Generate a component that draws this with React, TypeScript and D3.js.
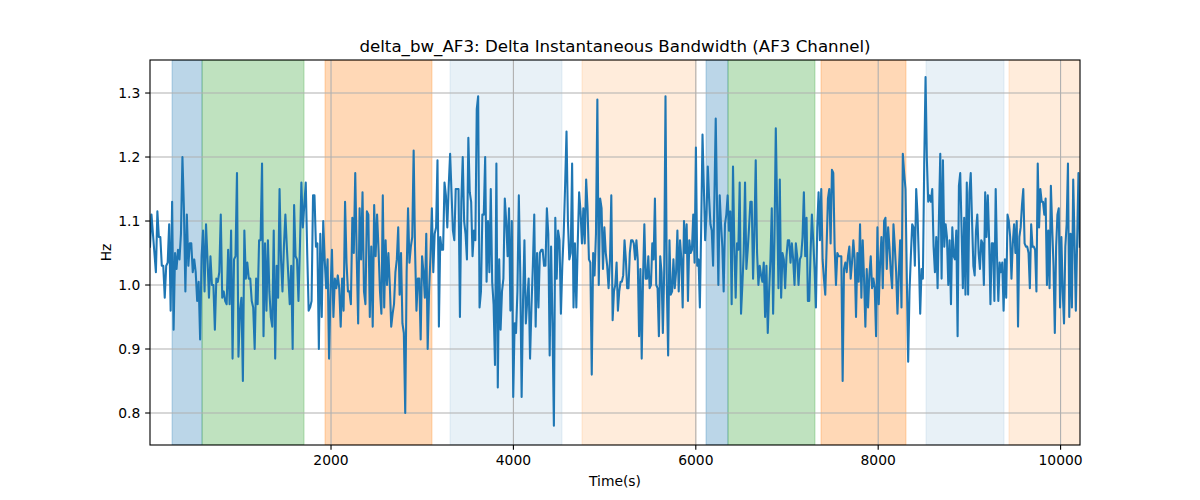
import * as d3 from "d3";

// Hz readings, one small array per stretch of the time axis
const hzSeg1 = [1.06, 1.11, 1.08, 1.05, 1.02, 1.115, 1.075, 1.075, 1.03, 1.03, 0.98, 1.03, 1.035, 1.095, 0.96, 1.13, 0.93, 1.05, 1.025, 1.055, 1.04, 1.08, 1.2, 1.12, 0.99, 1.11, 1.03, 1.065, 1.065, 1.02, 1.04, 1.02, 0.975, 1.005, 0.915, 1.045, 1.085, 0.99, 1.095, 1.04, 0.98, 1.045, 1.0, 1.0, 0.93, 1.01, 1.005, 1.02, 1.11, 0.98, 0.99, 0.975, 0.97, 1.055, 0.97, 1.085, 0.885, 1.04, 1.045, 1.175, 0.888, 0.96, 0.98, 0.85, 1.085, 1.01, 1.035, 1.01, 1.01, 0.975, 0.965, 0.9, 1.01, 0.97, 1.07, 1.07, 1.19, 0.92];
const hzSeg2 = [1.065, 0.96, 1.07, 0.99, 0.95, 0.935, 1.085, 0.885, 1.03, 0.98, 1.15, 1.04, 0.99, 1.06, 1.11, 1.06, 1.015, 0.97, 1.03, 0.9, 1.125, 1.045, 1.04, 0.975, 1.06, 1.16, 1.09, 1.125, 1.16, 1.05, 0.96, 0.965, 0.975, 1.14, 1.14, 1.06, 1.065, 0.9, 1.08, 0.95, 1.1, 1.04, 0.995, 1.04, 0.885, 0.99, 1.055, 0.95, 1.01, 0.995, 1.015, 0.995, 0.935, 1.01, 0.96, 1.13, 1.035, 0.99, 0.99, 0.97, 1.105, 1.05, 1.175, 1.045, 0.94, 1.12, 1.04, 1.145, 0.99, 0.97, 1.115, 1.11, 0.95, 1.06, 0.935, 1.125, 1.045, 1.11, 1.055];
const hzSeg3 = [0.99, 0.955, 1.14, 0.965, 1.07, 1.0, 1.05, 1.0, 0.935, 0.955, 0.97, 1.02, 1.04, 1.09, 0.985, 1.05, 0.94, 0.925, 0.8, 1.02, 1.12, 1.035, 1.06, 1.075, 1.21, 1.055, 0.96, 1.01, 1.01, 0.915, 1.045, 1.02, 0.98, 1.08, 0.9, 0.99, 1.045, 1.12, 1.02, 1.08, 1.09, 1.195, 0.935, 1.075, 1.055, 1.055, 1.16, 1.14, 1.09, 1.155, 1.205, 1.145, 1.085, 1.07, 1.15, 1.15, 1.15, 0.95, 1.13, 1.2, 1.1, 1.08, 1.04, 1.23, 1.145, 1.13, 1.045, 1.085, 1.07, 1.275, 1.295, 0.965, 0.99, 1.11, 1.11, 1.2, 1.005, 1.1, 1.02, 1.15, 1.005, 0.97];
const hzSeg4 = [0.875, 1.19, 0.84, 1.04, 0.93, 0.99, 1.01, 1.135, 1.1, 1.045, 1.12, 0.96, 1.1, 0.825, 0.94, 0.925, 0.99, 1.14, 1.02, 0.825, 0.975, 1.07, 0.94, 0.975, 1.01, 0.885, 0.965, 1.03, 1.11, 0.935, 1.05, 0.965, 1.05, 1.055, 1.055, 1.03, 1.03, 1.12, 1.08, 0.89, 1.06, 0.94, 0.78, 1.105, 1.01, 1.085, 1.07, 0.955, 1.03, 1.08, 1.155, 1.24, 1.1, 1.04, 1.05, 1.19, 0.965, 1.065, 0.965, 1.065, 1.145, 1.115, 1.065, 1.12, 1.065, 1.165, 1.12, 1.04, 1.035, 0.86, 1.05, 1.015, 1.08, 1.29, 1.0, 1.135, 1.12, 1.025, 1.09, 1.05, 1.03, 0.995];
const hzSeg5 = [1.04, 1.14, 0.945, 0.99, 1.0, 1.035, 0.96, 0.99, 1.005, 1.005, 1.015, 1.07, 1.04, 0.995, 0.995, 1.05, 1.07, 1.07, 1.065, 1.04, 1.07, 1.04, 0.92, 1.025, 0.885, 1.01, 1.095, 1.01, 1.01, 1.045, 0.995, 1.0, 1.065, 1.04, 1.135, 1.0, 0.995, 0.92, 1.045, 1.02, 0.925, 1.02, 1.295, 1.0, 0.89, 1.07, 0.985, 0.99, 1.04, 0.995, 1.02, 1.085, 0.99, 1.07, 1.04, 0.965, 1.1, 1.05, 1.095, 0.975, 1.07, 1.05, 1.055, 1.11, 1.035, 1.215, 1.03, 1.04, 0.965, 1.09, 1.235, 1.155, 1.07, 1.11, 1.185, 1.135, 1.095, 1.085, 1.03, 1.135, 1.26, 1.125, 1.0, 1.14, 1.095, 1.06, 0.99];
const hzSeg6 = [1.095, 1.11, 1.14, 1.085, 1.115, 0.97, 1.185, 1.06, 0.98, 1.065, 1.055, 1.16, 0.955, 1.0, 1.05, 1.16, 1.025, 1.055, 1.09, 1.13, 1.13, 1.01, 1.08, 1.195, 1.05, 1.0, 1.03, 1.015, 1.005, 1.035, 0.95, 1.03, 0.925, 0.99, 1.04, 1.12, 0.955, 1.07, 1.245, 1.12, 0.995, 1.165, 0.98, 1.05, 1.04, 0.995, 1.045, 1.07, 1.07, 1.035, 1.065, 1.04, 1.0, 1.065, 1.045, 1.0, 1.04, 1.045, 1.075, 1.145, 1.045, 1.105, 0.975, 0.975, 1.05, 1.11, 1.07, 1.025, 0.965, 1.09, 1.145, 1.07, 1.15, 1.04, 1.01, 0.985, 1.06, 1.135, 1.15, 1.065, 1.18, 1.175, 1.06, 1.0, 1.05, 1.045];
const hzSeg7 = [1.045, 1.045, 0.85, 1.025, 1.035, 1.02, 1.045, 1.06, 1.01, 1.035, 1.07, 1.04, 0.95, 1.05, 1.005, 1.095, 0.98, 1.07, 1.01, 0.935, 1.025, 0.965, 1.015, 1.045, 0.995, 1.01, 0.995, 0.92, 1.09, 0.97, 1.035, 1.075, 0.995, 1.1, 1.105, 1.025, 1.09, 1.06, 1.02, 0.995, 1.095, 1.06, 1.02, 0.955, 1.02, 1.07, 0.965, 1.205, 1.175, 1.15, 1.01, 0.88, 0.99, 1.045, 1.095, 1.09, 1.03, 1.15, 1.11, 1.04, 0.955, 1.025, 1.01, 1.19, 1.325, 1.195, 1.13, 1.14, 1.13, 1.15, 1.06, 1.02, 1.075, 0.995, 1.105, 1.205, 1.01, 1.195, 1.06, 1.095, 1.075, 1.0, 1.07, 0.97, 1.09, 1.045];
const hzSeg8 = [1.04, 1.085, 0.92, 1.155, 1.175, 1.09, 0.995, 1.105, 0.985, 1.16, 0.985, 1.145, 1.175, 1.1, 1.03, 1.015, 1.085, 1.11, 1.05, 1.025, 1.07, 1.065, 1.0, 1.145, 1.075, 1.14, 1.07, 0.97, 1.065, 1.065, 0.975, 1.15, 1.045, 0.975, 1.035, 1.02, 1.035, 0.96, 1.04, 0.98, 1.11, 1.1, 1.075, 1.01, 1.065, 1.095, 1.05, 1.1, 0.935, 1.075, 1.09, 1.125, 1.15, 1.065, 1.06, 1.06, 1.05, 0.995, 1.095, 1.06, 1.06, 1.055, 0.99, 1.19, 1.09, 1.15, 1.13, 1.13, 1.11, 1.135, 1.0, 1.085, 0.995, 1.155, 1.09, 1.03, 0.925, 1.06, 1.11, 1.12, 0.965, 1.075, 0.99, 0.94, 1.06, 1.095, 1.19, 0.95, 1.08, 0.965, 1.165, 1.07, 0.96, 1.07, 1.175, 1.06];

const segments = [hzSeg1, hzSeg2, hzSeg3, hzSeg4, hzSeg5, hzSeg6, hzSeg7, hzSeg8];
// time (s) where each stretch begins, plus the final end
const segBounds = [15, 1276, 2537, 3798, 5059, 6320, 7581, 8842, 10225];

// shaded state intervals
const spanStart = [257, 586, 1934, 3305, 4752, 6112, 6353, 7373, 8524, 9434];
const spanEnd = [586, 1704, 3107, 4533, 6002, 6353, 7307, 8305, 9380, 10400];
const spanState = [0, 1, 2, 3, 4, 0, 1, 2, 3, 4];

const xTicks = [2000, 4000, 6000, 8000, 10000];
const yTicks = [0.8, 0.9, 1.0, 1.1, 1.2, 1.3];

const stateFill = [
	{ color: "#1f77b4", opacity: 0.3 },
	{ color: "#2ca02c", opacity: 0.3 },
	{ color: "#ff7f0e", opacity: 0.3 },
	{ color: "#1f77b4", opacity: 0.1 },
	{ color: "#ff7f0e", opacity: 0.15 },
];

const W = 1200,
	H = 500;
const plot = { left: 150, right: 1080, top: 60, bottom: 445 };
const font = "DejaVu Sans, sans-serif";
const pt = 100 / 72; // matplotlib points -> px at 100 dpi

export default function App() {
	const x = d3.scaleLinear().domain([15, 10213]).range([plot.left, plot.right]);
	const y = d3.scaleLinear().domain([0.75, 1.3516]).range([plot.bottom, plot.top]);

	const points: { t: number; v: number }[] = [];
	segments.forEach((seg, k) => {
		const s = segBounds[k],
			e = segBounds[k + 1];
		seg.forEach((v, i) => points.push({ t: s + (i * (e - s)) / seg.length, v }));
	});

	const line = d3
		.line<{ t: number; v: number }>()
		.x((d) => x(d.t))
		.y((d) => y(d.v));

	const tickLen = 3.5 * pt;
	const tickFont = 10 * pt;

	return (
		<svg width={W} height={H} style={{ position: "absolute", left: 0, top: 0 }} fontFamily={font}>
			<defs>
				<clipPath id="plotClip">
					<rect x={plot.left} y={plot.top} width={plot.right - plot.left} height={plot.bottom - plot.top} />
				</clipPath>
			</defs>
			<rect width={W} height={H} fill="#fff" />

			{/* state spans */}
			<g clipPath="url(#plotClip)">
				{spanStart.map((s, i) => {
					const st = stateFill[spanState[i]];
					return (
						<rect
							key={i}
							x={x(s)}
							y={plot.top}
							width={x(spanEnd[i]) - x(s)}
							height={plot.bottom - plot.top}
							fill={st.color}
							fillOpacity={st.opacity}
							stroke={st.color}
							strokeOpacity={st.opacity}
							strokeWidth={1}
						/>
					);
				})}
			</g>

			{/* grid */}
			<g stroke="#b0b0b0" strokeWidth={0.8 * pt}>
				{xTicks.map((t) => (
					<line key={t} x1={x(t)} x2={x(t)} y1={plot.top} y2={plot.bottom} />
				))}
				{yTicks.map((t) => (
					<line key={t} x1={plot.left} x2={plot.right} y1={y(t)} y2={y(t)} />
				))}
			</g>

			<path
				d={line(points) ?? ""}
				fill="none"
				stroke="#1f77b4"
				strokeWidth={1.5 * pt}
				strokeLinejoin="round"
				strokeLinecap="square"
				clipPath="url(#plotClip)"
			/>

			{/* frame */}
			<rect
				x={plot.left}
				y={plot.top}
				width={plot.right - plot.left}
				height={plot.bottom - plot.top}
				fill="none"
				stroke="#000"
				strokeWidth={0.8 * pt}
			/>

			{/* x axis */}
			{xTicks.map((t) => (
				<g key={t} transform={`translate(${x(t)},${plot.bottom})`}>
					<line y2={tickLen} stroke="#000" strokeWidth={0.8 * pt} />
					<text y={tickLen + 3.5 * pt + tickFont * 0.76} textAnchor="middle" fontSize={tickFont} fill="#000">
						{t}
					</text>
				</g>
			))}
			{/* y axis */}
			{yTicks.map((t) => (
				<g key={t} transform={`translate(${plot.left},${y(t)})`}>
					<line x2={-tickLen} stroke="#000" strokeWidth={0.8 * pt} />
					<text x={-tickLen - 3.5 * pt} dy="0.35em" textAnchor="end" fontSize={tickFont} fill="#000">
						{d3.format(".1f")(t)}
					</text>
				</g>
			))}

			<text x={(plot.left + plot.right) / 2} y={486} textAnchor="middle" fontSize={tickFont}>
				Time(s)
			</text>
			<text transform={`translate(111,${(plot.top + plot.bottom) / 2}) rotate(-90)`} textAnchor="middle" fontSize={tickFont}>
				Hz
			</text>
			<text x={(plot.left + plot.right) / 2} y={52} textAnchor="middle" fontSize={12 * pt}>
				delta_bw_AF3: Delta Instantaneous Bandwidth (AF3 Channel)
			</text>
		</svg>
	);
}
